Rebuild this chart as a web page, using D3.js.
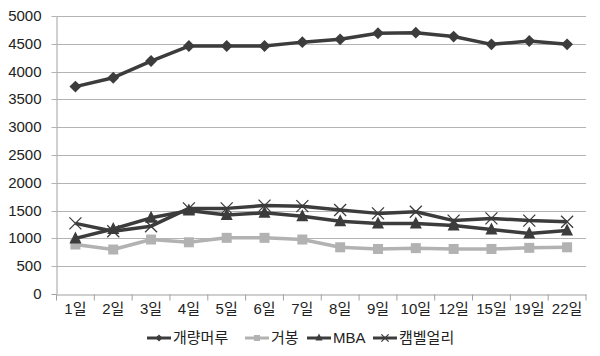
<!DOCTYPE html>
<html><head><meta charset="utf-8">
<script src="https://cdn.jsdelivr.net/npm/d3@7/dist/d3.min.js"></script>
<style>
body{margin:0;background:#fff;}
text{font-family:"Liberation Sans","Noto Sans CJK KR",sans-serif;}
</style></head>
<body><svg id="c" width="600" height="356"></svg>
<script>
const categories = ["1일","2일","3일","4일","5일","6일","7일","8일","9일","10일","12일","15일","19일","22일"];
const seriesNames = ["개량머루","거봉","MBA","캠벨얼리"];
const s1 = [3730,3890,4190,4460,4460,4460,4530,4580,4690,4700,4630,4490,4550,4490];
const s2 = [890,800,980,930,1010,1010,980,840,810,825,810,810,830,840];
const s3 = [1000,1170,1370,1500,1420,1460,1400,1310,1270,1270,1230,1160,1090,1140];
const s4 = [1270,1130,1220,1540,1540,1590,1580,1510,1450,1480,1320,1360,1320,1300];
const yTicks = [0,500,1000,1500,2000,2500,3000,3500,4000,4500,5000];

const svg = d3.select("#c");
const L=56.5, R=586, T=16, B=294;
const x = d3.scaleBand().domain(categories).range([L,R]);
const y = d3.scaleLinear().domain([0,5000]).range([B,T]);

// gridlines
svg.append("g").selectAll("line").data(yTicks.filter(d=>d>0)).join("line")
  .attr("x1",L).attr("x2",R).attr("y1",d=>Math.round(y(d))+0.5).attr("y2",d=>Math.round(y(d))+0.5)
  .attr("stroke","#b4b4b4").attr("stroke-width",1.2);

// y axis
const ya = svg.append("g").attr("transform",`translate(${L},0)`)
  .call(d3.axisLeft(y).tickValues(yTicks).tickFormat(d3.format("d")).tickSize(0).tickPadding(15));
ya.select(".domain").attr("stroke","#a0a0a0");
ya.selectAll("text").attr("font-size",15).attr("fill","#222");
ya.selectAll(".tick").each(function(d){ d3.select(this).attr("transform",`translate(0,${Math.round(y(d))+0.5})`); });
ya.selectAll("line").remove();
svg.append("line").attr("x1",L-5).attr("x2",L).attr("y1",B+0.5).attr("y2",B+0.5).attr("stroke","#a0a0a0");
ya.selectAll(".tick").filter(d=>d>0).append("line").attr("x1",-5).attr("x2",0).attr("stroke","#b4b4b4");

// x axis
const xa = svg.append("g").attr("transform",`translate(0,${B+0.5})`)
  .call(d3.axisBottom(x).tickSize(0).tickPadding(9));
xa.select(".domain").attr("stroke","#a0a0a0").attr("stroke-width",1.2);
xa.selectAll("text").attr("font-size",15).attr("fill","#222");
const bounds = categories.map(c=>x(c)).concat([R]);
xa.append("g").selectAll("line").data(bounds).join("line")
  .attr("x1",d=>d).attr("x2",d=>d).attr("y1",0).attr("y2",6).attr("stroke","#a0a0a0");

const dark="#3c3c3c", light="#b2b2b2";
const line = d3.line().x((d,i)=>x(categories[i])+x.bandwidth()/2).y(d=>y(d));
const series = [
  {name:seriesNames[0],vals:s1,color:dark,m:"diamond"},
  {name:seriesNames[1],vals:s2,color:light,m:"square"},
  {name:seriesNames[2],vals:s3,color:dark,m:"triangle"},
  {name:seriesNames[3],vals:s4,color:dark,m:"x"}
];
function marker(g,type,color,cx,cy,scale){
  scale=scale||1;
  if(type==="diamond"){
    g.append("path").attr("d",d3.symbol(d3.symbolDiamond2,90*scale*scale)()).attr("transform",`translate(${cx},${cy})`).attr("fill",color);
  } else if(type==="square"){
    const s=10*scale; g.append("rect").attr("x",cx-s/2).attr("y",cy-s/2).attr("width",s).attr("height",s).attr("fill",color);
  } else if(type==="triangle"){
    const s=6*scale; g.append("path").attr("d",`M${cx},${cy-s-1}L${cx+s},${cy+s-1}L${cx-s},${cy+s-1}Z`).attr("fill",color);
  } else {
    const s=6*scale; g.append("path").attr("d",`M${cx-s},${cy-s}L${cx+s},${cy+s}M${cx+s},${cy-s}L${cx-s},${cy+s}`).attr("stroke",color).attr("stroke-width",1.3).attr("fill","none");
  }
}
series.forEach(s=>{
  svg.append("path").datum(s.vals).attr("d",line).attr("fill","none").attr("stroke",s.color).attr("stroke-width",3.5).attr("stroke-linejoin","round");
});
series.forEach(s=>{
  const g=svg.append("g");
  s.vals.forEach((v,i)=>marker(g,s.m,s.color,x(categories[i])+x.bandwidth()/2,y(v)));
});

// legend
const legX=[147,245,307,373];
const lg=svg.append("g");
series.forEach((s,i)=>{
  const gx=legX[i], gy=338;
  lg.append("line").attr("x1",gx).attr("x2",gx+24).attr("y1",gy).attr("y2",gy).attr("stroke",s.color).attr("stroke-width",3);
  marker(lg,s.m,s.color,gx+12,gy,0.6);
  lg.append("text").attr("x",gx+26).attr("y",gy).attr("dy","0.36em").attr("font-size",15).attr("fill","#222").text(s.name);
});
</script></body></html>
